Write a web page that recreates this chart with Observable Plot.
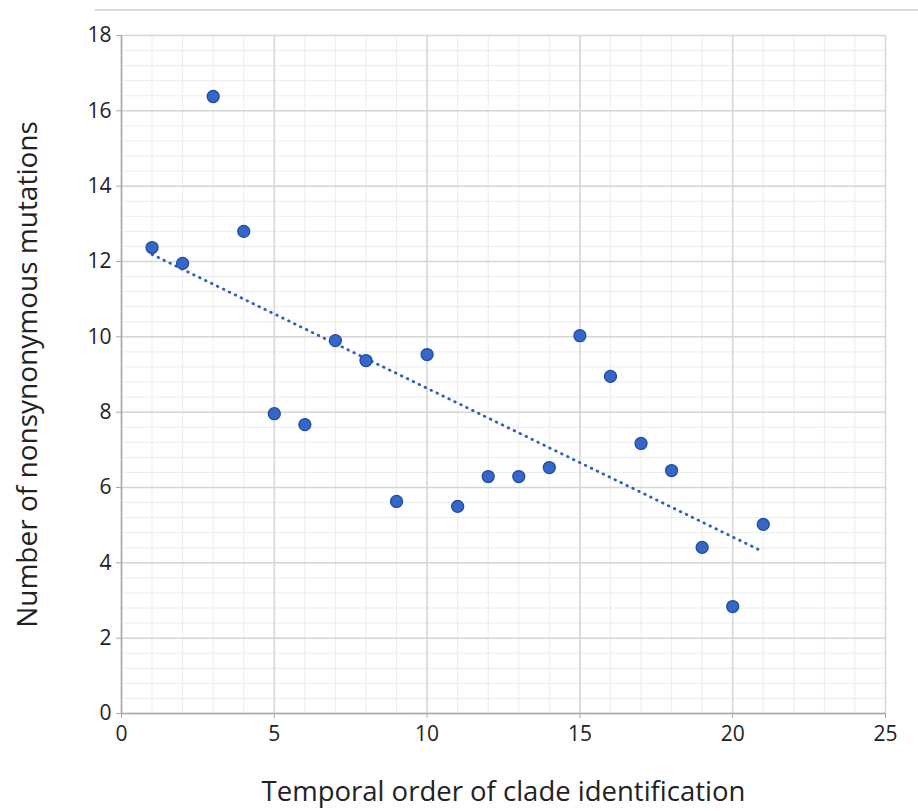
<!DOCTYPE html>
<html>
<head>
<meta charset="utf-8">
<script src="https://cdn.jsdelivr.net/npm/d3@7"></script>
<script src="https://cdn.jsdelivr.net/npm/@observablehq/plot@0.6"></script>
<style>
  html, body { margin: 0; padding: 0; background: #ffffff; }
  #wrap { position: relative; width: 918px; height: 811px; overflow: hidden; }
  #topline { position: absolute; left: 95px; right: 0; top: 9px; height: 0; border-top: 2px solid #dadada; }
  #chart { position: absolute; left: 0; top: 0; }
  #chart svg g[aria-label="x-axis tick label"] text,
  #chart svg g[aria-label="y-axis tick label"] text { font-size: 21px !important; }
</style>
</head>
<body>
<div id="wrap">
  <div id="topline"></div>
  <div id="chart"></div>
</div>
<script>
// Clade order (x) and number of nonsynonymous mutations (y)
const cladeOrder = [1, 2, 3, 4, 5, 6, 7, 8, 9, 10, 11, 12, 13, 14, 15, 16, 17, 18, 19, 20, 21];
const mutations  = [12.37, 11.95, 16.38, 12.8, 7.96, 7.67, 9.9, 9.37, 5.63, 9.53, 5.5, 6.29, 6.29, 6.53, 10.03, 8.95, 7.17, 6.45, 4.41, 2.84, 5.02];

// Axis ticks
const xTicks = [0, 5, 10, 15, 20, 25];
const yTicks = [0, 2, 4, 6, 8, 10, 12, 14, 16, 18];
const xMinor = [0,1,2,3,4,5,6,7,8,9,10,11,12,13,14,15,16,17,18,19,20,21,22,23,24,25];
const yMinor = [0,0.4,0.8,1.2,1.6,2,2.4,2.8,3.2,3.6,4,4.4,4.8,5.2,5.6,6,6.4,6.8,7.2,7.6,8,8.4,8.8,9.2,9.6,10,10.4,10.8,11.2,11.6,12,12.4,12.8,13.2,13.6,14,14.4,14.8,15.2,15.6,16,16.4,16.8,17.2,17.6,18];

const xLabel = "Temporal order of clade identification";
const yLabel = "Number of nonsynonymous mutations";

const data = cladeOrder.map((x, i) => ({x, y: mutations[i]}));

const font = "'Open Sans', 'Noto Sans', sans-serif";

const chart = Plot.plot({
  width: 918,
  height: 811,
  marginLeft: 121,
  marginRight: 33,
  marginTop: 35,
  marginBottom: 98,
  style: {fontFamily: font, background: "transparent"},
  x: {domain: [0, 25]},
  y: {domain: [0, 18]},
  marks: [
    Plot.gridX(xMinor, {stroke: "#ececec", strokeOpacity: 1, strokeWidth: 1}),
    Plot.gridY(yMinor, {stroke: "#ececec", strokeOpacity: 1, strokeWidth: 1}),
    Plot.gridX(xTicks, {stroke: "#d6d6d6", strokeOpacity: 1, strokeWidth: 1.5}),
    Plot.gridY(yTicks, {stroke: "#d6d6d6", strokeOpacity: 1, strokeWidth: 1.5}),
    Plot.ruleX([0], {stroke: "#a9a9a9", strokeWidth: 1.5}),
    Plot.ruleY([0], {stroke: "#a9a9a9", strokeWidth: 1.5}),
    Plot.axisX(xTicks, {tickSize: 5, tickPadding: 8, stroke: "#a9a9a9", fill: "#222", label: null}),
    Plot.axisY(yTicks, {tickSize: 5, tickPadding: 5, stroke: "#a9a9a9", fill: "#222", label: null}),
    Plot.text([xLabel], {frameAnchor: "bottom", textAnchor: "middle", dy: 79, fontSize: 27.5, fill: "#222", lineAnchor: "middle", lineWidth: 100}),
    Plot.text([yLabel], {frameAnchor: "left", textAnchor: "middle", dx: -93, rotate: -90, fontSize: 28, fill: "#222", lineAnchor: "middle", lineWidth: 100}),
    Plot.linearRegressionY(data, {x: "x", y: "y", ci: 0, stroke: "#2f5fbf", strokeWidth: 2.8, strokeDasharray: "0.6 6", strokeLinecap: "round"}),
    Plot.dot(data, {x: "x", y: "y", r: 6, fill: "#3566c8", stroke: "#1f4ea3", strokeWidth: 1.3})
  ]
});

document.getElementById("chart").appendChild(chart);
</script>
</body>
</html>
